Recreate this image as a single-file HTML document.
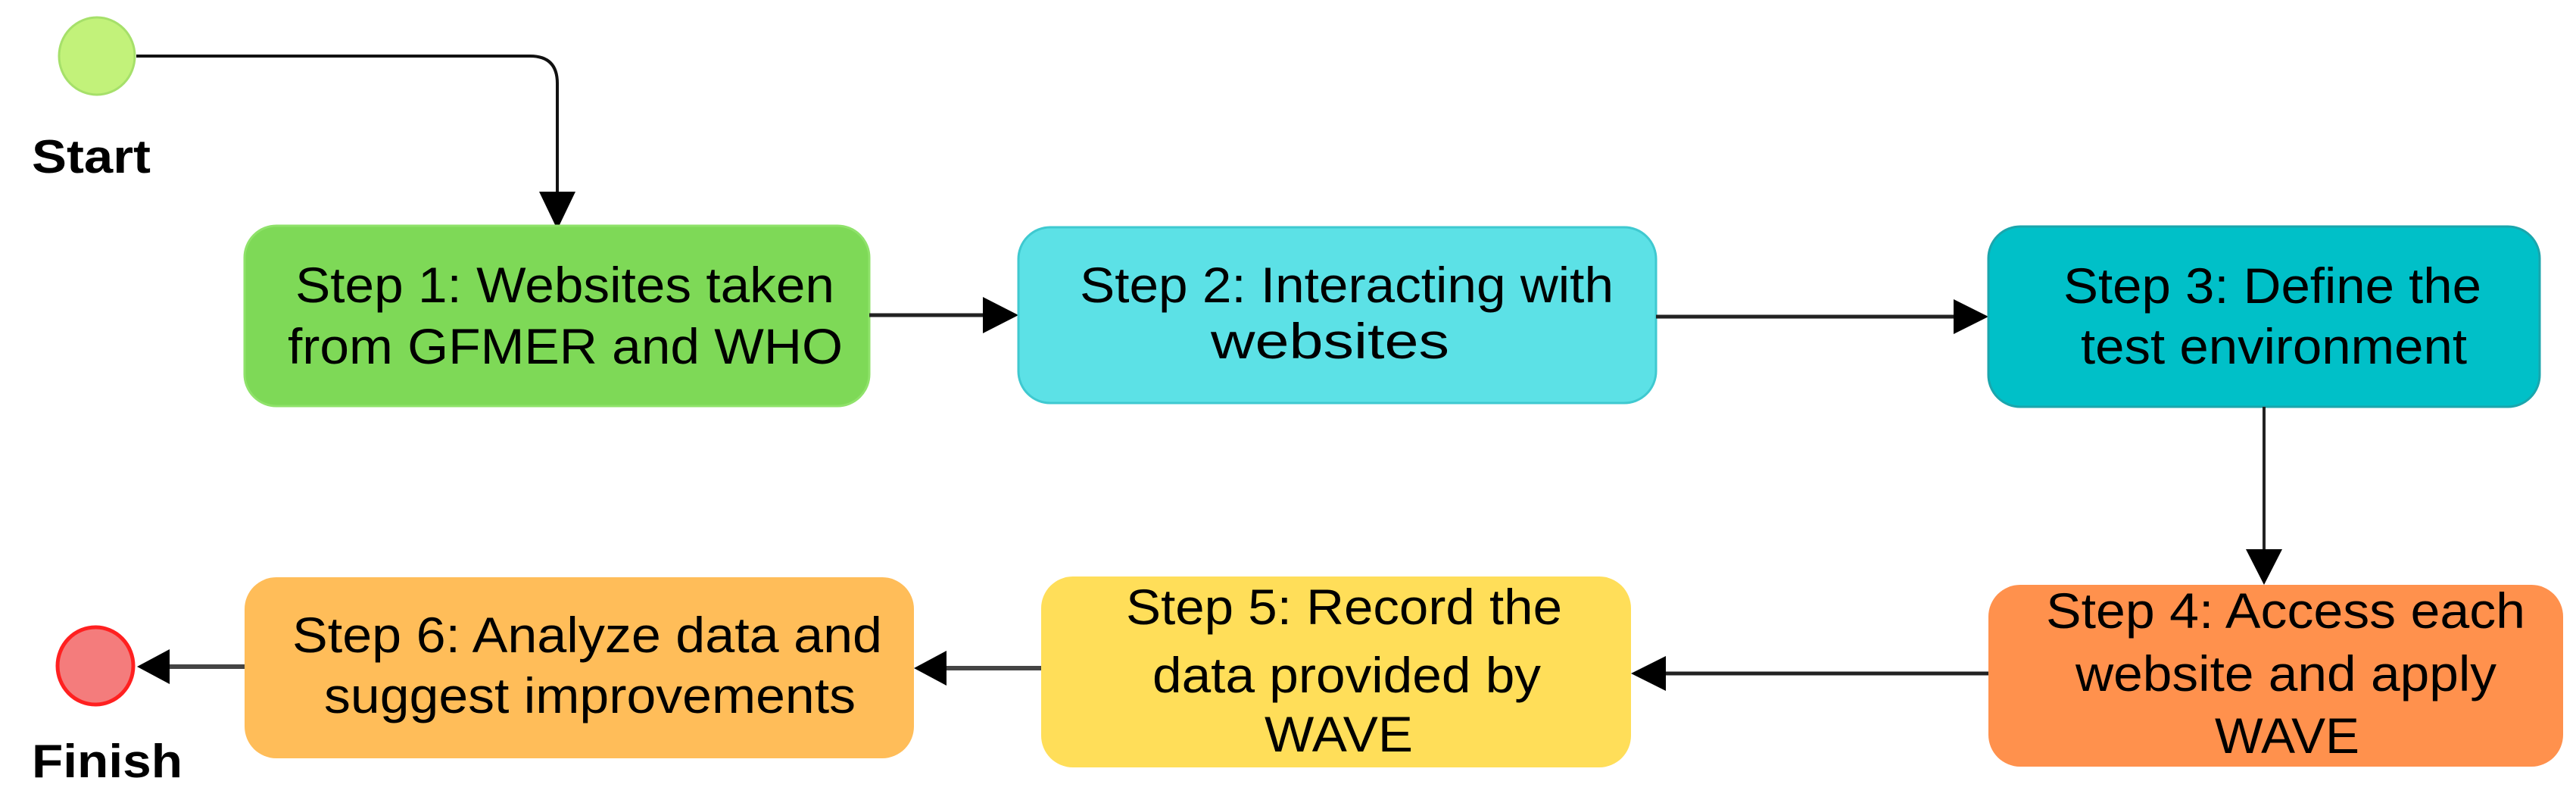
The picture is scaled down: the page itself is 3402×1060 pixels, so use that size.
<!DOCTYPE html>
<html><head><meta charset="utf-8"><style>html,body{margin:0;padding:0;background:#fff}svg{display:block}</style></head>
<body>
<svg width="3402" height="1060" viewBox="0 0 3402 1060" xmlns="http://www.w3.org/2000/svg" font-family="Liberation Sans, Arial, sans-serif">
<defs>
<marker id="ah" markerWidth="10" markerHeight="10" refX="10" refY="5" orient="auto" markerUnits="userSpaceOnUse" viewBox="0 0 10 10"/>
</defs>
<!-- start -->
<ellipse cx="128" cy="74" rx="50" ry="51" fill="#c2f27a" stroke="#a6e06a" stroke-width="3"/>
<text x="42" y="228" font-size="62" font-weight="bold" textLength="157" lengthAdjust="spacingAndGlyphs">Start</text>
<path d="M180 74 H700 Q736 74 736 110 V260" fill="none" stroke="#111" stroke-width="4"/>
<polygon points="712,253 760,253 736,303" fill="#000"/>
<!-- box1 -->
<rect x="323" y="298" width="825" height="238" rx="42" fill="#7ed957" stroke="#8fe26a" stroke-width="3"/>
<text x="390" y="399" font-size="66" textLength="712" lengthAdjust="spacingAndGlyphs">Step 1: Websites taken</text>
<text x="380" y="480" font-size="66" textLength="733" lengthAdjust="spacingAndGlyphs">from GFMER and WHO</text>
<line x1="1148" y1="416" x2="1300" y2="416" stroke="#222" stroke-width="5"/>
<polygon points="1298,392 1345,416 1298,440" fill="#000"/>
<!-- box2 -->
<rect x="1345" y="300" width="842" height="232" rx="42" fill="#5ce1e6" stroke="#3fc9d0" stroke-width="3"/>
<text x="1426" y="399" font-size="66" textLength="705" lengthAdjust="spacingAndGlyphs">Step 2: Interacting with</text>
<text x="1599" y="473" font-size="66" textLength="315" lengthAdjust="spacingAndGlyphs">websites</text>
<line x1="2187" y1="418" x2="2582" y2="418" stroke="#222" stroke-width="5"/>
<polygon points="2580,395 2626,418 2580,441" fill="#000"/>
<!-- box3 -->
<rect x="2626" y="299" width="728" height="238" rx="42" fill="#00c0c8" stroke="#1aa6ad" stroke-width="3"/>
<text x="2725" y="400" font-size="66" textLength="552" lengthAdjust="spacingAndGlyphs">Step 3: Define the</text>
<text x="2748" y="480" font-size="66" textLength="510" lengthAdjust="spacingAndGlyphs">test environment</text>
<line x1="2990" y1="537" x2="2990" y2="730" stroke="#222" stroke-width="4"/>
<polygon points="2966,725 3014,725 2990,772" fill="#000"/>
<!-- box4 -->
<rect x="2626" y="772" width="759" height="240" rx="42" fill="#ff914d"/>
<text x="2702" y="829" font-size="66" textLength="633" lengthAdjust="spacingAndGlyphs">Step 4: Access each</text>
<text x="2741" y="912" font-size="66" textLength="556" lengthAdjust="spacingAndGlyphs">website and apply</text>
<text x="2925" y="994" font-size="66" textLength="191" lengthAdjust="spacingAndGlyphs">WAVE</text>
<line x1="2626" y1="889" x2="2200" y2="889" stroke="#222" stroke-width="5"/>
<polygon points="2200,866 2154,889 2200,912" fill="#000"/>
<!-- box5 -->
<rect x="1375" y="761" width="779" height="252" rx="42" fill="#ffde59"/>
<text x="1487" y="824" font-size="66" textLength="576" lengthAdjust="spacingAndGlyphs">Step 5: Record the</text>
<text x="1522" y="914" font-size="66" textLength="513" lengthAdjust="spacingAndGlyphs">data provided by</text>
<text x="1670" y="992" font-size="66" textLength="196" lengthAdjust="spacingAndGlyphs">WAVE</text>
<line x1="1375" y1="882" x2="1250" y2="882" stroke="#444" stroke-width="6"/>
<polygon points="1250,859 1207,882 1250,905" fill="#000"/>
<!-- box6 -->
<rect x="323" y="762" width="884" height="239" rx="42" fill="#ffbd59"/>
<text x="386" y="861" font-size="66" textLength="779" lengthAdjust="spacingAndGlyphs">Step 6: Analyze data and</text>
<text x="428" y="941" font-size="66" textLength="702" lengthAdjust="spacingAndGlyphs">suggest improvements</text>
<line x1="323" y1="880" x2="222" y2="880" stroke="#444" stroke-width="6"/>
<polygon points="224,857 181,880 224,903" fill="#000"/>
<!-- finish -->
<ellipse cx="126" cy="879" rx="50" ry="51" fill="#f47c7c" stroke="#ff2020" stroke-width="5"/>
<text x="42" y="1026" font-size="62" font-weight="bold" textLength="199" lengthAdjust="spacingAndGlyphs">Finish</text>
</svg>
</body></html>
